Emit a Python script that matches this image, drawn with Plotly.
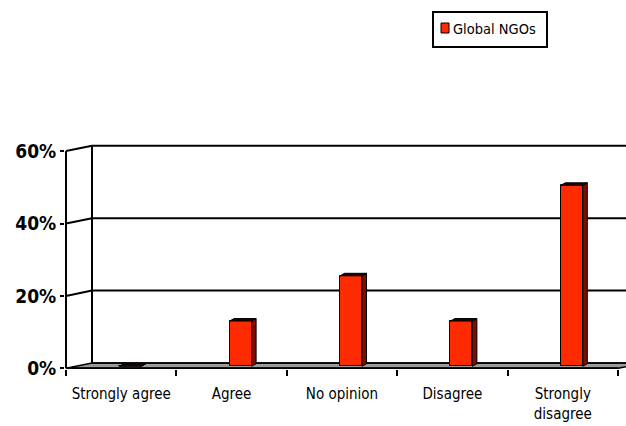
import plotly.graph_objects as go

# ---- data -------------------------------------------------------------
categories = ["Strongly agree", "Agree", "No opinion", "Disagree", "Strongly disagree"]
tick_text = ["Strongly agree", "Agree", "No opinion", "Disagree", "Strongly<br>disagree"]
global_ngos = [0, 12.5, 25, 12.5, 50]          # percent of respondents
series_name = "Global NGOs"
y_ticks = [0, 20, 40, 60]
y_tick_text = ["0%", "20%", "40%", "60%"]

# ---- page / scale geometry --------------------------------------------
W, H = 626, 426
M_L, M_R, M_T, M_B = 65, 0, 144, 57
PX_CAT = 110.4      # pixels per category slot
PX_PCT = 3.62       # pixels per percentage point
ZERO_PX = 368.3     # screen row of the 0% line on the front plane
LEFT_PX = 66        # screen column of the front value axis

plot_w = W - M_L - M_R
plot_h = H - M_T - M_B
x_lo = -0.5 - (LEFT_PX - M_L) / PX_CAT
x_hi = x_lo + plot_w / PX_CAT
y_lo = -(H - M_B - ZERO_PX) / PX_PCT
y_hi = y_lo + plot_h / PX_PCT

# depth of the 3-D box (back wall offset) in data units
DX = 26 / PX_CAT
DY = 5.3 / PX_PCT
x_start, x_end = -0.5, len(categories) - 0.5
y_top = max(y_ticks)

# bar geometry (bars sit part-way into the box)
BAR_SHIFT = 9 / PX_CAT
BAR_W = 22 / PX_CAT
BAR_BASE = 0.55
BAR_DX = 4.5 / PX_CAT
BAR_DY = 2.5 / PX_PCT

RED = "#FF2B00"
SIDE = "#7E0C00"
TOP = "#1E0400"

fig = go.Figure()

# front faces of the columns
pos = [i + BAR_SHIFT for i in range(len(categories))]
fig.add_trace(go.Bar(
    x=pos, y=global_ngos, base=BAR_BASE, width=BAR_W, name=series_name,
    marker=dict(color=RED, line=dict(color="black", width=1)),
    showlegend=False, hoverinfo="skip",
))

# side and top faces of the columns
for p, v in zip(pos, global_ngos):
    xl, xr = p - BAR_W / 2, p + BAR_W / 2
    top = BAR_BASE + v
    fig.add_trace(go.Scatter(
        x=[xr, xr + BAR_DX, xr + BAR_DX, xr, xr],
        y=[BAR_BASE, BAR_BASE + BAR_DY, top + BAR_DY, top, BAR_BASE],
        mode="lines", fill="toself", fillcolor=SIDE,
        line=dict(color="black", width=1), showlegend=False, hoverinfo="skip",
    ))
    fig.add_trace(go.Scatter(
        x=[xl, xl + BAR_DX, xr + BAR_DX, xr, xl],
        y=[top, top + BAR_DY, top + BAR_DY, top, top],
        mode="lines", fill="toself", fillcolor=TOP,
        line=dict(color="black", width=1), showlegend=False, hoverinfo="skip",
    ))

# ---- box: floor, walls and gridlines ----------------------------------
shapes = []


def seg(xa, ya, xb, yb, w=2):
    shapes.append(dict(type="line", xref="x", yref="y", x0=xa, y0=ya, x1=xb, y1=yb,
                       line=dict(color="black", width=w), layer="below"))


# floor slab
shapes.append(dict(
    type="path", xref="x", yref="y", layer="below",
    path=(f"M{x_start},0 L{x_start + DX},{DY} L{x_end + DX},{DY} "
          f"L{x_end},0 Z"),
    fillcolor="#9A9A9A", line=dict(color="black", width=1.5),
))
seg(x_start, 0, x_end, 0, 2)
seg(x_start + DX, DY, x_end + DX, DY, 1.5)

# left wall and back wall outline
seg(x_start, 0, x_start, y_top, 2)
seg(x_start + DX, DY, x_start + DX, y_top + DY, 2)
for t in y_ticks[1:]:
    seg(x_start, t, x_start + DX, t + DY, 2)
    seg(x_start + DX, t + DY, x_end + DX, t + DY, 2)


# ---- legend box ---------------------------------------------------------
def px_x(px):
    return (px - M_L) / plot_w


def px_y(py):
    return (H - M_B - py) / plot_h


shapes.append(dict(type="rect", xref="paper", yref="paper",
                   x0=px_x(433), x1=px_x(547), y0=px_y(47), y1=px_y(12),
                   line=dict(color="black", width=2), fillcolor="white"))
shapes.append(dict(type="rect", xref="paper", yref="paper",
                   x0=px_x(441), x1=px_x(449), y0=px_y(33), y1=px_y(23),
                   line=dict(color="black", width=1), fillcolor=RED))

fig.add_annotation(
    text=series_name, xref="paper", yref="paper", x=px_x(451), y=px_y(29.5),
    xanchor="left", yanchor="middle", showarrow=False,
    font=dict(family="DejaVu Sans Condensed, DejaVu Sans", size=14.5, color="black"),
)

fig.update_layout(
    width=W, height=H,
    margin=dict(l=M_L, r=M_R, t=M_T, b=M_B, pad=0),
    paper_bgcolor="white", plot_bgcolor="white",
    shapes=shapes, showlegend=False, bargap=0,
    xaxis=dict(
        range=[x_lo, x_hi], showgrid=False, zeroline=False, showline=False,
        tickmode="array", tickvals=list(range(len(categories))), ticktext=tick_text,
        ticks="", ticklabelstandoff=14,
        tickfont=dict(family="DejaVu Sans Condensed, DejaVu Sans", size=15, color="black"),
        minor=dict(tickmode="array",
                   tickvals=[i - 0.5 for i in range(len(categories) + 1)],
                   ticks="outside", ticklen=6, tickwidth=1.5, tickcolor="black",
                   showgrid=False),
        fixedrange=True,
    ),
    yaxis=dict(
        range=[y_lo, y_hi], showgrid=False, zeroline=False, showline=False,
        tickmode="array", tickvals=y_ticks, ticktext=y_tick_text,
        ticks="outside", ticklen=4, tickwidth=2, tickcolor="black",
        ticklabelstandoff=0,
        tickfont=dict(family="DejaVu Sans Condensed, DejaVu Sans", size=19,
                      color="black", weight="bold"),
        fixedrange=True,
    ),
)

fig.write_html("out.html")
